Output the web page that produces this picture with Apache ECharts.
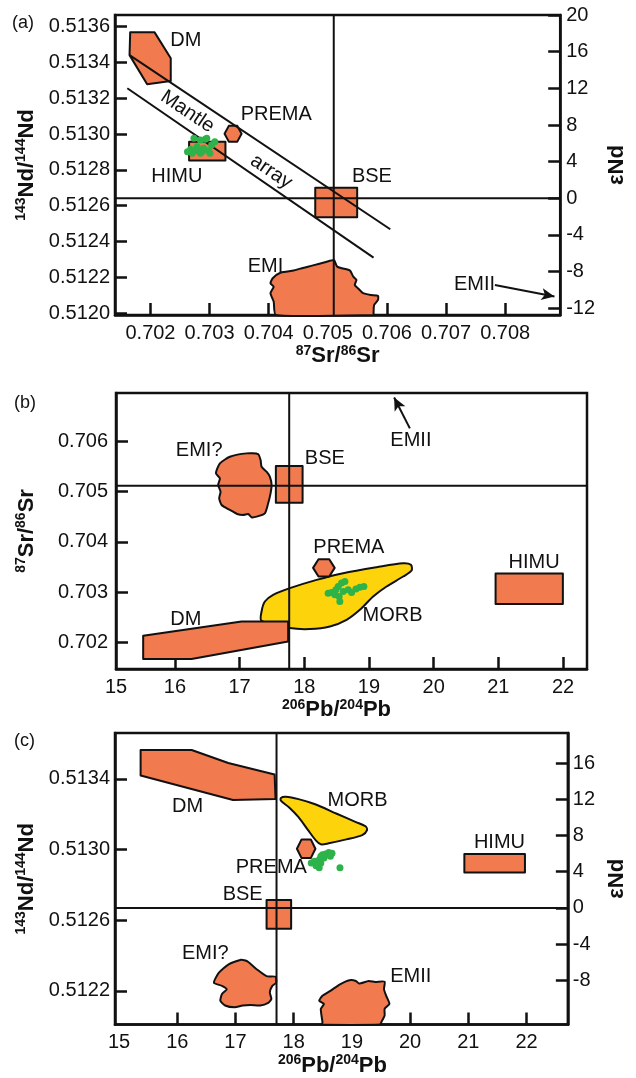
<!DOCTYPE html>
<html lang="en">
<head>
<meta charset="UTF-8">
<title>Sr-Nd-Pb isotope diagrams</title>
<script src="https://cdn.jsdelivr.net/npm/echarts@6/dist/echarts.min.js"></script>
<style>
    html, body { margin: 0; padding: 0; background: #fff; }
    #chart { width: 636px; height: 1078px; }
</style>
</head>
<body>
<div id="chart"></div>
<script>
    var FONT = '"Liberation Sans", Arial, sans-serif';
    var ORANGE = '#f27a4f';
    var YELLOW = '#fdd40c';
    var GREEN = '#2db34a';
    var INK = '#111';

    // ---- panel (a): 87Sr/86Sr vs 143Nd/144Nd ----
    var aXTicks = [0.702, 0.703, 0.704, 0.705, 0.706, 0.707, 0.708];
    var aYTicks = [0.5120, 0.5122, 0.5124, 0.5126, 0.5128, 0.5130, 0.5132, 0.5134, 0.5136];
    var aEpsTicks = [-12, -8, -4, 0, 4, 8, 12, 16, 20];
    var aDM = [[0.701657, 0.513568], [0.702070, 0.513568], [0.702343, 0.513423], [0.702343, 0.513296], [0.701944, 0.513278], [0.701646, 0.513441]];
    var aPREMA = [[0.703253, 0.513002], [0.703325, 0.513046], [0.703469, 0.513046], [0.703541, 0.513002], [0.703469, 0.512958], [0.703325, 0.512958]];
    var aHIMU = [[0.702653, 0.512958], [0.703268, 0.512958], [0.703268, 0.512852], [0.702653, 0.512852]];
    var aBSE = [[0.704787, 0.512701], [0.705496, 0.512701], [0.705496, 0.512536], [0.704787, 0.512536]];
    var aEMI = [[0.704123, 0.51199], [0.704084, 0.512065], [0.704030, 0.512112], [0.704084, 0.512148], [0.704030, 0.512167],
        [0.704068, 0.512195], [0.704205, 0.512227], [0.704422, 0.512238], [0.704532, 0.512249], [0.704749, 0.512267],
        [0.704966, 0.512286], [0.705104, 0.512297], [0.705130, 0.512279], [0.705158, 0.512260], [0.705239, 0.512251],
        [0.705375, 0.512238], [0.705430, 0.512204], [0.705484, 0.512186], [0.705456, 0.512158], [0.705538, 0.512130],
        [0.705594, 0.512112], [0.705729, 0.512102], [0.705848, 0.512097], [0.705848, 0.512074], [0.705783, 0.512046],
        [0.705773, 0.512000], [0.705773, 0.51199]];
    var aMantleUpper = [[0.701646, 0.513441], [0.706056, 0.512469]];
    var aMantleLower = [[0.701608, 0.513256], [0.705773, 0.512310]];
    var aSrBSE = 0.7051;
    var aEMIIArrow = [[0.707825, 0.512158], [0.708833, 0.512093]];
    var aSamples = [[0.702626, 0.512902], [0.702680, 0.512915], [0.702707, 0.512893], [0.702761, 0.512907], [0.702789, 0.512930],
        [0.702817, 0.512911], [0.702843, 0.512893], [0.702871, 0.512902], [0.702898, 0.512921], [0.702925, 0.512971],
        [0.702952, 0.512977], [0.702980, 0.512907], [0.703006, 0.512893], [0.703034, 0.512939], [0.703088, 0.512958],
        [0.702735, 0.512977], [0.702843, 0.512967]];
    var aLabelNames = ['DM', 'PREMA', 'HIMU', 'BSE', 'EMI', 'EMII', 'Mantle', 'array'];
    var aLabelAt = [[0.702598, 0.513525], [0.704128, 0.513107], [0.702446, 0.512762], [0.705745, 0.512766],
        [0.703944, 0.512260], [0.707482, 0.512158], [0.702626, 0.513125], [0.704042, 0.512790]];

    // ---- panel (b): 206Pb/204Pb vs 87Sr/86Sr ----
    var bXTicks = [16, 17, 18, 19, 20, 21, 22];
    var bXLabels = [15.09, 16, 17, 18, 19, 20, 21, 22];
    var bYTicks = [0.702, 0.703, 0.704, 0.705, 0.706];
    var bEMI = [[16.696, 0.705560], [16.850, 0.705690], [17.108, 0.705758], [17.287, 0.705744], [17.325, 0.705625],
        [17.340, 0.705492], [17.417, 0.705393], [17.468, 0.705294], [17.495, 0.705129], [17.479, 0.704964],
        [17.442, 0.704766], [17.391, 0.704567], [17.263, 0.704500], [17.185, 0.704488], [17.133, 0.704554],
        [17.056, 0.704534], [16.963, 0.704554], [16.850, 0.704633], [16.722, 0.704732], [16.685, 0.704865],
        [16.706, 0.704996], [16.669, 0.705129], [16.696, 0.705262], [16.634, 0.705361]];
    var bBSE = [[17.561, 0.705506], [17.974, 0.705506], [17.974, 0.704778], [17.561, 0.704778]];
    var bMORB = [[17.340, 0.702615], [17.391, 0.702813], [17.519, 0.702946], [17.777, 0.703079], [18.190, 0.703244],
        [18.601, 0.703377], [19.117, 0.703496], [19.529, 0.703575], [19.648, 0.703542], [19.658, 0.703429],
        [19.529, 0.703310], [19.272, 0.703111], [19.065, 0.702913], [18.859, 0.702649], [18.654, 0.702450],
        [18.396, 0.702317], [18.087, 0.702266], [17.777, 0.702286], [17.340, 0.702431]];
    var bDM = [[15.510, 0.702133], [17.031, 0.702417], [17.751, 0.702417], [17.751, 0.702020], [16.258, 0.701671], [15.510, 0.701671]];
    var bPREMA = [[18.136, 0.703482], [18.220, 0.703655], [18.386, 0.703655], [18.470, 0.703482], [18.386, 0.703309], [18.220, 0.703309]];
    var bHIMU = [[20.957, 0.703369], [21.997, 0.703369], [21.997, 0.702762], [20.957, 0.702762]];
    var bPbBSE = 17.767;
    var bSrBSE = 0.705115;
    var bEMIIArrow = [[19.632, 0.706254], [19.389, 0.706869]];
    var bSamples = [[18.369, 0.702980], [18.422, 0.702992], [18.488, 0.703046], [18.524, 0.703111], [18.576, 0.703179],
        [18.628, 0.703210], [18.539, 0.702913], [18.550, 0.702813], [18.601, 0.703012], [18.679, 0.703046],
        [18.731, 0.702992], [18.798, 0.703060], [18.859, 0.703099], [18.921, 0.703111], [18.473, 0.702946]];
    var bLabelNames = ['EMI?', 'BSE', 'PREMA', 'HIMU', 'MORB', 'DM', 'EMII'];
    var bLabelAt = [[16.376, 0.705823], [18.318, 0.705659], [18.689, 0.703893], [21.553, 0.703595],
        [19.365, 0.702530], [16.170, 0.702464], [19.648, 0.706022]];

    // ---- panel (c): 206Pb/204Pb vs 143Nd/144Nd ----
    var cXTicks = [16, 17, 18, 19, 20, 21, 22];
    var cXLabels = [15, 16, 17, 18, 19, 20, 21, 22];
    var cYTicks = [0.5122, 0.5126, 0.5130, 0.5134];
    var cEpsTicks = [-8, -4, 0, 4, 8, 12, 16];
    var cDM = [[15.370, 0.513563], [16.247, 0.513563], [16.876, 0.513489], [17.672, 0.513424], [17.688, 0.513285], [16.958, 0.513280], [15.370, 0.513418]];
    var cMORB = [[17.780, 0.513291], [17.863, 0.513298], [18.083, 0.513285], [18.356, 0.513257], [18.740, 0.513202],
        [19.069, 0.513155], [19.234, 0.513131], [19.260, 0.513109], [19.178, 0.513081], [18.905, 0.513057],
        [18.602, 0.513035], [18.466, 0.513029], [18.384, 0.513050], [18.247, 0.513109], [18.083, 0.513183],
        [17.918, 0.513239], [17.780, 0.513276]];
    var cPREMA = [[18.055, 0.513004], [18.135, 0.513057], [18.294, 0.513057], [18.373, 0.513004], [18.294, 0.512951], [18.135, 0.512951]];
    var cBSE = [[17.534, 0.512714], [17.956, 0.512714], [17.956, 0.512551], [17.534, 0.512551]];
    var cHIMU = [[20.932, 0.512974], [21.973, 0.512974], [21.973, 0.512869], [20.932, 0.512869]];
    var cEMI = [[16.630, 0.512246], [16.712, 0.512302], [16.876, 0.512349], [17.096, 0.512376], [17.205, 0.512367],
        [17.369, 0.512321], [17.534, 0.512283], [17.688, 0.512280], [17.698, 0.512246], [17.632, 0.512228],
        [17.590, 0.512191], [17.616, 0.512154], [17.562, 0.512132], [17.425, 0.512117], [17.261, 0.512120],
        [17.123, 0.512117], [16.986, 0.512107], [16.822, 0.512117], [16.740, 0.512144], [16.768, 0.512182],
        [16.850, 0.512209], [16.768, 0.512228]];
    var cEMII = [[18.494, 0.512009], [18.494, 0.512024], [18.466, 0.512098], [18.520, 0.512126], [18.438, 0.512144],
        [18.494, 0.512172], [18.630, 0.512200], [18.795, 0.512237], [18.959, 0.512260], [19.069, 0.512256],
        [19.123, 0.512241], [19.288, 0.512256], [19.398, 0.512250], [19.562, 0.512252], [19.551, 0.512209],
        [19.589, 0.512172], [19.645, 0.512126], [19.562, 0.512098], [19.562, 0.512061], [19.507, 0.512024],
        [19.480, 0.512009]];
    var cPbBSE = 17.705;
    var cSamples = [[18.302, 0.512923], [18.356, 0.512933], [18.412, 0.512914], [18.438, 0.512942], [18.466, 0.512961],
        [18.494, 0.512970], [18.520, 0.512951], [18.548, 0.512975], [18.602, 0.512983], [18.658, 0.512979],
        [18.630, 0.512961], [18.438, 0.512896], [18.384, 0.512908], [18.795, 0.512896], [18.466, 0.512923]];
    var cLabelNames = ['DM', 'MORB', 'PREMA', 'BSE', 'EMI?', 'HIMU', 'EMII'];
    var cLabelAt = [[16.176, 0.513245], [19.096, 0.513276], [17.616, 0.512896], [17.123, 0.512747],
        [16.482, 0.512410], [21.535, 0.513040], [20.011, 0.512283]];

    var chart = echarts.init(document.getElementById('chart'));

    var nameRich = {
        b: {fontSize: 22, fontWeight: 'bold', fontFamily: FONT, color: INK, lineHeight: 25},
        s: {fontSize: 14, fontWeight: 'bold', fontFamily: FONT, color: INK, lineHeight: 14, verticalAlign: 'top'}
    };

    function axis(grid, pos, min, max, ticks, labels, fmt, margin, name, gap, shift) {
        return {
            type: 'value', gridIndex: grid, position: pos, min: min, max: max,
            splitLine: {show: false},
            axisLine: {show: true, onZero: false, lineStyle: {color: INK, width: 2.5}},
            axisTick: {show: true, inside: true, length: 12, customValues: ticks, lineStyle: {color: INK, width: 2.5}},
            axisLabel: {show: true, customValues: labels, margin: margin, color: INK, fontSize: 20, fontFamily: FONT, formatter: fmt},
            name: name, nameLocation: 'middle', nameGap: gap,
            nameRotate: (pos === 'left' || pos === 'right') ? 90 : 0,
            nameTextStyle: {rich: nameRich, padding: shift ? [0, shift, 0, 0] : 0}
        };
    }

    function fix(n) {
        return function (v) { return v.toFixed(n); };
    }
    function whole(v) {
        return String(Math.round(v));
    }

    function poly(pts, xi, yi, fill, smooth) {
        return {
            type: 'custom', xAxisIndex: xi, yAxisIndex: yi, z: 2, silent: true,
            data: pts, encode: {x: 0, y: 1},
            renderItem: function (params, api) {
                if (params.dataIndex !== 0) return;
                return {
                    type: 'polygon',
                    shape: {points: pts.map(function (p) { return api.coord(p); }), smooth: smooth || 0},
                    style: {fill: fill, stroke: INK, lineWidth: 2, lineJoin: 'round'}
                };
            }
        };
    }

    function line(pts, xi, yi) {
        return {
            type: 'line', xAxisIndex: xi, yAxisIndex: yi, z: 3, silent: true,
            data: pts, symbol: 'none', lineStyle: {color: INK, width: 2}
        };
    }

    function arrow(pts, xi, yi) {
        return {
            type: 'line', xAxisIndex: xi, yAxisIndex: yi, z: 3, silent: true, data: [],
            markLine: {
                silent: true, symbol: ['none', 'arrow'], symbolSize: [9, 13], label: {show: false},
                lineStyle: {color: INK, width: 2, type: 'solid'},
                data: [[{coord: pts[0]}, {coord: pts[1]}]]
            }
        };
    }

    function dots(pts, xi, yi) {
        return {
            type: 'scatter', xAxisIndex: xi, yAxisIndex: yi, z: 4, silent: true,
            data: pts, symbolSize: 7, itemStyle: {color: GREEN, opacity: 1}
        };
    }

    function labels(names, at, xi, yi, rot) {
        return {
            type: 'scatter', xAxisIndex: xi, yAxisIndex: yi, z: 5, silent: true, symbolSize: 0,
            itemStyle: {opacity: 1},
            data: names.map(function (n, i) {
                var item = {name: n, value: at[i]};
                if (rot && rot[n] !== undefined) item.label = {rotate: rot[n]};
                return item;
            }),
            label: {show: true, position: 'inside', formatter: '{b}', color: INK, opacity: 1, fontSize: 20, fontFamily: FONT}
        };
    }

    var gridStyle = {show: true, borderColor: INK, borderWidth: 2.5, backgroundColor: 'transparent'};

    var option = {
        animation: false,
        backgroundColor: '#fff',
        textStyle: {fontFamily: FONT},
        grid: [
            Object.assign({left: 115, top: 15, width: 461, height: 300}, gridStyle),
            Object.assign({left: 116, top: 393, width: 471, height: 276}, gridStyle),
            Object.assign({left: 115, top: 733, width: 473, height: 296}, gridStyle)
        ],
        xAxis: [
            axis(0, 'bottom', 0.7014, 0.70893, aXTicks, aXTicks, fix(3), 8, '{s|87}{b|Sr/}{s|86}{b|Sr}', 25, 0),
            axis(1, 'bottom', 15.09, 22.37, bXTicks, bXLabels, whole, 8, '{s|206}{b|Pb/}{s|204}{b|Pb}', 26, 30),
            axis(2, 'bottom', 14.93, 22.71, cXTicks, cXLabels, whole, 8, '{s|206}{b|Pb/}{s|204}{b|Pb}', 22, 18)
        ],
        yAxis: [
            axis(0, 'left', 0.51199, 0.513665, aYTicks, aYTicks, fix(4), 5, '{s|143}{b|Nd/}{s|144}{b|Nd}', 76, 0),
            axis(0, 'right', -12.73, 20, aEpsTicks, aEpsTicks, whole, 6, '{b|εNd}', 31, 0),
            axis(1, 'left', 0.701472, 0.706958, bYTicks, bYTicks, fix(3), 8, '{s|87}{b|Sr/}{s|86}{b|Sr}', 77, 0),
            axis(2, 'left', 0.512009, 0.513659, cYTicks, cYTicks, fix(4), 5, '{s|143}{b|Nd/}{s|144}{b|Nd}', 74, 0),
            axis(2, 'right', -12.88, 19.32, cEpsTicks, cEpsTicks, whole, 5, '{b|εNd}', 20, 0)
        ],
        graphic: [
            {type: 'text', left: 12, top: 14, style: {text: '(a)', font: '18px ' + FONT, fill: INK}},
            {type: 'text', left: 14, top: 394, style: {text: '(b)', font: '18px ' + FONT, fill: INK}},
            {type: 'text', left: 14, top: 732, style: {text: '(c)', font: '18px ' + FONT, fill: INK}}
        ],
        series: [
            // (a)
            poly(aDM, 0, 0, ORANGE),
            poly(aPREMA, 0, 0, ORANGE),
            poly(aHIMU, 0, 0, ORANGE),
            poly(aBSE, 0, 0, ORANGE),
            poly(aEMI, 0, 0, ORANGE, 0.2),
            line(aMantleUpper, 0, 0),
            line(aMantleLower, 0, 0),
            line([[aSrBSE, 0.51199], [aSrBSE, 0.513665]], 0, 0),
            line([[0.7014, 0], [0.70893, 0]], 0, 1),
            arrow(aEMIIArrow, 0, 0),
            dots(aSamples, 0, 0),
            labels(aLabelNames, aLabelAt, 0, 0, {Mantle: -34, array: -34}),
            // (b)
            poly(bMORB, 1, 2, YELLOW, 0.3),
            poly(bEMI, 1, 2, ORANGE, 0.2),
            poly(bBSE, 1, 2, ORANGE),
            poly(bDM, 1, 2, ORANGE),
            poly(bPREMA, 1, 2, ORANGE),
            poly(bHIMU, 1, 2, ORANGE),
            line([[bPbBSE, 0.701472], [bPbBSE, 0.706958]], 1, 2),
            line([[15.09, bSrBSE], [22.37, bSrBSE]], 1, 2),
            arrow(bEMIIArrow, 1, 2),
            dots(bSamples, 1, 2),
            labels(bLabelNames, bLabelAt, 1, 2),
            // (c)
            poly(cMORB, 2, 3, YELLOW, 0.3),
            poly(cDM, 2, 3, ORANGE),
            poly(cPREMA, 2, 3, ORANGE),
            poly(cBSE, 2, 3, ORANGE),
            poly(cHIMU, 2, 3, ORANGE),
            poly(cEMI, 2, 3, ORANGE, 0.2),
            poly(cEMII, 2, 3, ORANGE, 0.2),
            line([[cPbBSE, 0.512009], [cPbBSE, 0.513659]], 2, 3),
            line([[14.93, 0], [22.71, 0]], 2, 4),
            dots(cSamples, 2, 3),
            labels(cLabelNames, cLabelAt, 2, 3)
        ]
    };

    chart.setOption(option);
</script>
</body>
</html>
